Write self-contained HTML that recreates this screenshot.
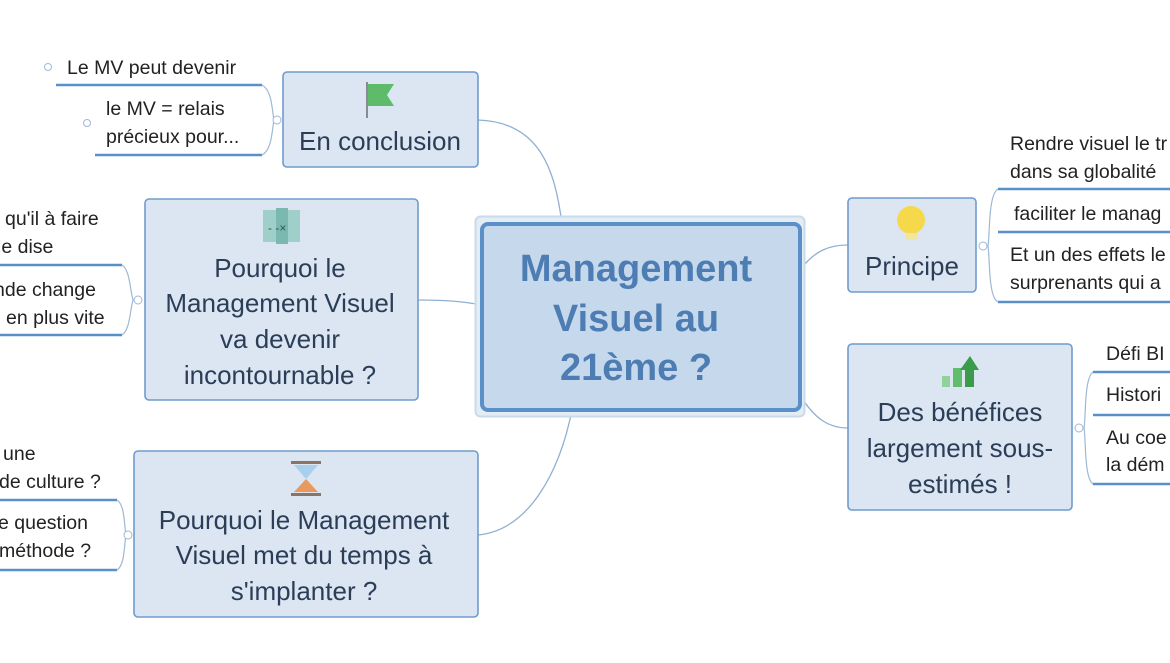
<!DOCTYPE html>
<html><head><meta charset="utf-8"><style>
html,body{margin:0;padding:0;background:#fff;width:1170px;height:663px;overflow:hidden}
svg{display:block}
text{font-family:"Liberation Sans",sans-serif}
.t{font-size:26px;fill:#2b3d57;text-anchor:middle}
.s{font-size:19.5px;fill:#222}
.c{font-size:38px;fill:#4d7db3;font-weight:bold;text-anchor:middle}
</style></head><body>
<svg width="1170" height="663" viewBox="0 0 1170 663">
<g fill="none" stroke="#8fb0d3" stroke-width="1.3">
<path d="M478,120 C540,122 555,170 562,224"/>
<path d="M418,300 C450,300 465,302 482,305"/>
<path d="M478,535 C530,530 560,470 572,410"/>
<path d="M800,270 C815,250 830,245 848,245"/>
<path d="M800,395 C815,420 830,428 848,428"/>
</g>
<rect x="475.5" y="216.5" width="329" height="200" rx="5" fill="#e3edf6" stroke="#c9dbeb" stroke-width="2"/>
<rect x="482" y="224" width="318" height="186" rx="6" fill="#c6d9ec" stroke="#5b8fc7" stroke-width="4"/>
<text class="c" x="636" y="281">Management</text>
<text class="c" x="636" y="331">Visuel au</text>
<text class="c" x="636" y="380">21ème ?</text>
<g fill="#dbe6f2" stroke="#6f9bce" stroke-width="1.6">
<rect x="283" y="72" width="195" height="95" rx="4"/>
<rect x="145" y="199" width="273" height="201" rx="4"/>
<rect x="134" y="451" width="344" height="166" rx="4"/>
<rect x="848" y="198" width="128" height="94" rx="4"/>
<rect x="848" y="344" width="224" height="166" rx="4"/>
</g>
<line x1="367" y1="82" x2="367" y2="118" stroke="#333" stroke-width="1"/>
<path d="M368,84 H394 L387,95 L394,106 H368Z" fill="#5dbb6a"/>
<rect x="263" y="210" width="37" height="32" fill="#9fcfc9"/>
<rect x="276" y="208" width="12" height="36" fill="#7ab8b0"/>
<text x="268" y="232" font-size="12" fill="#355">- -×</text>
<rect x="291" y="461" width="30" height="3" fill="#8b7462"/>
<rect x="291" y="493" width="30" height="3" fill="#8b7462"/>
<path d="M294,465 H318 L306,479 Z" fill="#a9cfee"/>
<path d="M306,479 L318,492 H294 Z" fill="#e89a5e"/>
<circle cx="911" cy="220" r="14" fill="#f5d94a"/>
<rect x="905" y="233" width="12" height="7" fill="#f1e6a0"/>
<rect x="942" y="376" width="8" height="11" fill="#8fd39a"/>
<rect x="953" y="368" width="9" height="19" fill="#5fbd6c"/>
<path d="M965,387 V370 H960 L970,356 L979,370 H974 V387Z" fill="#3a9c4a"/>
<text class="t" x="380" y="150">En conclusion</text>
<text class="t" x="280" y="277">Pourquoi le</text>
<text class="t" x="280" y="312">Management Visuel</text>
<text class="t" x="280" y="348">va devenir</text>
<text class="t" x="280" y="384">incontournable ?</text>
<text class="t" x="304" y="529">Pourquoi le Management</text>
<text class="t" x="304" y="564">Visuel met du temps à</text>
<text class="t" x="304" y="600">s'implanter ?</text>
<text class="t" x="912" y="275">Principe</text>
<text class="t" x="960" y="421">Des bénéfices</text>
<text class="t" x="960" y="457">largement sous-</text>
<text class="t" x="960" y="493">estimés !</text>
<g fill="none" stroke="#5b8fc7" stroke-width="2.5">
<line x1="56" y1="85" x2="262" y2="85"/><line x1="95" y1="155" x2="262" y2="155"/>
<line x1="0" y1="265" x2="122" y2="265"/><line x1="0" y1="335" x2="122" y2="335"/>
<line x1="0" y1="500" x2="117" y2="500"/><line x1="0" y1="570" x2="117" y2="570"/>
<line x1="998" y1="189" x2="1170" y2="189"/><line x1="998" y1="232" x2="1170" y2="232"/><line x1="998" y1="302" x2="1170" y2="302"/>
<line x1="1093" y1="372" x2="1170" y2="372"/><line x1="1093" y1="415" x2="1170" y2="415"/><line x1="1093" y1="484" x2="1170" y2="484"/>
</g>
<g fill="none" stroke="#9fb8d4" stroke-width="1.2">
<path d="M262,85 C272,90 272,110 274,120 C272,130 272,150 262,155"/>
<path d="M122,265 C130,270 130,290 133,300 C130,310 130,330 122,335"/>
<path d="M117,500 C125,505 124,525 126,535 C124,545 125,565 117,570"/>
<path d="M998,189 C988,195 990,235 988,246 C990,257 988,297 998,302"/>
<path d="M1093,372 C1084,378 1086,418 1084,428 C1086,438 1084,478 1093,484"/>
</g>
<g fill="#fff" stroke="#9fb8d4" stroke-width="1">
<circle cx="277" cy="120" r="4"/><circle cx="138" cy="300" r="4"/><circle cx="128" cy="535" r="4"/>
<circle cx="983" cy="246" r="4"/><circle cx="1079" cy="428" r="4"/>
<circle cx="48" cy="67" r="3.5"/><circle cx="87" cy="123" r="3.5"/>
</g>
<text class="s" x="67" y="74">Le MV peut devenir</text>
<text class="s" x="106" y="115">le MV = relais</text>
<text class="s" x="106" y="143">précieux pour...</text>
<text class="s" x="5" y="225">qu'il à faire</text>
<text class="s" x="-3" y="253">le dise</text>
<text class="s" x="-6" y="296">nde change</text>
<text class="s" x="6" y="324">en plus vite</text>
<text class="s" x="3" y="460">une</text>
<text class="s" x="-1" y="488">de culture ?</text>
<text class="s" x="-2" y="529">e question</text>
<text class="s" x="-1" y="557">méthode ?</text>
<text class="s" x="1010" y="150">Rendre visuel le tr</text>
<text class="s" x="1010" y="178">dans sa globalité</text>
<text class="s" x="1014" y="220">faciliter le manag</text>
<text class="s" x="1010" y="261">Et un des effets le</text>
<text class="s" x="1010" y="289">surprenants qui a</text>
<text class="s" x="1106" y="360">Défi BI</text>
<text class="s" x="1106" y="401">Histori</text>
<text class="s" x="1106" y="444">Au coe</text>
<text class="s" x="1106" y="471">la dém</text>
</svg>
</body></html>
